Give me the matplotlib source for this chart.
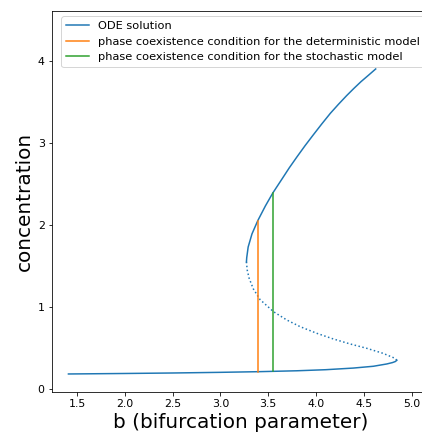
import matplotlib
matplotlib.use("Agg")
import matplotlib.pyplot as plt

# stable lower branch
low_b = [1.41, 2.0, 2.5, 3.0, 3.4, 3.8, 4.1, 4.39, 4.6, 4.74, 4.8, 4.83, 4.845]
low_c = [0.183, 0.189, 0.195, 0.203, 0.211, 0.222, 0.235, 0.255, 0.277, 0.305, 0.322, 0.335, 0.35]

# unstable middle branch
mid_b = [4.845, 4.826, 4.70, 4.53, 4.356, 4.18, 4.007, 3.833, 3.694, 3.554,
         3.414, 3.344, 3.30, 3.28, 3.272]
mid_c = [0.35, 0.374, 0.435, 0.496, 0.549, 0.61, 0.679, 0.76, 0.841, 0.943,
         1.09, 1.22, 1.35, 1.45, 1.55]

# stable upper branch
up_b = [3.272, 3.275, 3.29, 3.33, 3.39, 3.47, 3.547, 3.65, 3.72, 3.8, 3.885,
        3.97, 4.06, 4.15, 4.235, 4.32, 4.395, 4.47, 4.55, 4.624]
up_c = [1.55, 1.6, 1.73, 1.89, 2.05, 2.23, 2.387, 2.57, 2.695, 2.828, 2.965,
        3.095, 3.23, 3.36, 3.47, 3.575, 3.662, 3.745, 3.825, 3.9]

b_det = 3.393
b_sto = 3.55
det_lo, det_hi = 0.211, 2.05
sto_lo, sto_hi = 0.223, 2.387

fig = plt.figure(figsize=(422 / 72, 432 / 72), dpi=72)
right_px = 430
ax = fig.add_axes([51.7 / 422, 40.3 / 432, (right_px - 51.7) / 422, 381 / 432])

ax.plot(low_b, low_c, color="C0", lw=1.5, label="ODE solution")
ax.plot(up_b, up_c, color="C0", lw=1.5)
ax.plot(mid_b, mid_c, color="C0", lw=1.5, ls=":")
ax.plot([b_det, b_det], [det_lo, det_hi], color="C1", lw=1.5,
        label="phase coexistence condition for the deterministic model")
ax.plot([b_sto, b_sto], [sto_lo, sto_hi], color="C2", lw=1.5,
        label="phase coexistence condition for the stochastic model")

ax.set_xlim(1.235, 1.235 + (right_px - 51.7) / 95.6)
ax.set_ylim(-0.033, 4.61)
ax.set_xticks([1.5, 2.0, 2.5, 3.0, 3.5, 4.0, 4.5, 5.0])
ax.set_yticks([0, 1, 2, 3, 4])
ax.tick_params(labelsize=11)
ax.set_xlabel("b (bifurcation parameter)", fontsize=20)
ax.set_ylabel("concentration", fontsize=20)
ax.legend(loc="upper right", fontsize=11.4)

fig.savefig("out.png", dpi=72)
